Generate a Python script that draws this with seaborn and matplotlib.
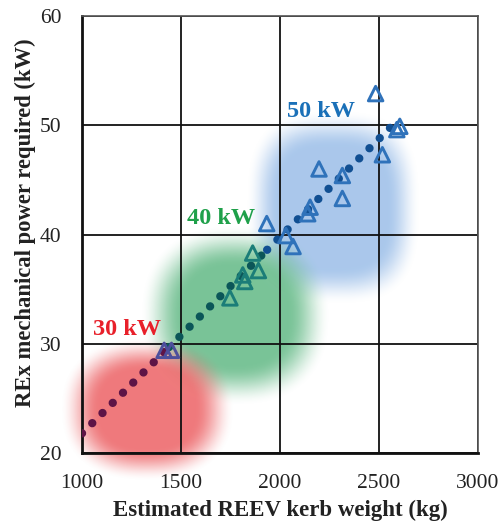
import numpy as np
import pandas as pd
import matplotlib
matplotlib.use("Agg")
import matplotlib.pyplot as plt
import seaborn as sns

# ---------------- data ----------------
weight_kg = [1415, 1452, 1747, 1812, 1822, 1862, 1891, 1933, 2030, 2066,
             2140, 2152, 2197, 2315, 2315, 2483, 2517, 2590, 2605]
power_kw = [29.4, 29.4, 34.2, 36.3, 35.7, 38.3, 36.7, 41.0, 39.9, 38.9,
            41.9, 42.5, 46.0, 45.4, 43.3, 52.9, 47.3, 49.6, 49.9]
power_class = ["30 kW", "30 kW", "40 kW", "40 kW", "40 kW", "40 kW", "40 kW",
               "50 kW", "50 kW", "50 kW", "50 kW", "50 kW", "50 kW", "50 kW",
               "50 kW", "50 kW", "50 kW", "50 kW", "50 kW"]

# trend line (at the colour changes)
trend_x = [1000, 1440, 1935, 2580]
trend_y = [21.8, 29.7, 38.6, 50.2]

x_ticks = [1000, 1500, 2000, 2500, 3000]
y_ticks = [20, 30, 40, 50, 60]

class_labels = ["30 kW", "40 kW", "50 kW"]
label_x = [1227, 1702, 2207]
label_y = [31.3, 41.5, 51.3]

# ---------------- style ----------------
sns.set_style("white")
plt.rcParams["font.family"] = ["Liberation Serif", "DejaVu Serif"]

W, H = 503, 525
fig = plt.figure(figsize=(W / 100, H / 100), dpi=100)
ax = fig.add_axes([82 / W, 1 - 453 / H, (478 - 82) / W, (453 - 16) / H])

# soft coloured blobs (decoration)
blobs = [  # cx, cy, rx, ry, power, fade, appearance colour
    (2270, 42.5, 440, 8.9, 3.0, 0.38, (170, 200, 236)),
    (1775, 32.6, 480, 8.3, 2.4, 0.45, (122, 196, 152)),
    (1330, 24.0, 440, 6.6, 2.4, 0.45, (240, 122, 124)),
]
ext = [860, 3000, 17.0, 60.0]
nx, ny = 500, 400
gx = np.linspace(ext[0], ext[1], nx)
gy = np.linspace(ext[3], ext[2], ny)
GX, GY = np.meshgrid(gx, gy)
C = np.zeros((ny, nx, 3))
A = np.zeros((ny, nx))
amax = 0.88
for cx, cy, rx, ry, p, fade, app in blobs:
    d = (np.abs((GX - cx) / rx) ** p + np.abs((GY - cy) / ry) ** p) ** (1 / p)
    t = np.clip((1 - d) / fade, 0, 1)
    a = amax * t * t * (3 - 2 * t)
    col = (np.array(app) / 255 - (1 - amax)) / amax
    col = np.clip(col, 0, 1)
    Anew = a + A * (1 - a)
    with np.errstate(invalid="ignore", divide="ignore"):
        C = np.where(Anew[..., None] > 0,
                     (col * a[..., None] + C * (A * (1 - a))[..., None]) / Anew[..., None],
                     0)
    A = Anew
img = np.dstack([C, A])
im = ax.imshow(img, extent=ext, aspect="auto", interpolation="bilinear", zorder=1)
im.set_clip_on(False)

# trend line (dotted, colour changing by region)
seg_rows = []
for i in range(len(trend_x) - 1):
    seg_rows.append({"x": trend_x[i], "y": trend_y[i], "seg": i})
    seg_rows.append({"x": trend_x[i + 1], "y": trend_y[i + 1], "seg": i})
trend_df = pd.DataFrame(seg_rows)
seg_colors = ["#5e1446", "#0b5658", "#114f92"]
sns.lineplot(data=trend_df, x="x", y="y", hue="seg", palette=seg_colors,
             legend=False, ax=ax, linewidth=6.0, ls=(0, (0.01, 1.72)),
             dash_capstyle="round", zorder=3, sort=False, estimator=None)

# triangles
df = pd.DataFrame({"weight": weight_kg, "power": power_kw, "cls": power_class})
tri_pal = {"30 kW": "#4d4f9c", "40 kW": "#1b7d78", "50 kW": "#2f72ba"}
sns.scatterplot(data=df, x="weight", y="power", hue="cls", palette=tri_pal,
                marker="^", s=110, linewidth=2.1, legend=False, ax=ax, zorder=4)
coll = ax.collections[-1]
fc = coll.get_facecolors()
coll.set_edgecolors(fc)
coll.set_facecolors("none")

# region labels
lab_cols = ["#e8202a", "#1fa04a", "#1a70b8"]
for t, x, y, c in zip(class_labels, label_x, label_y, lab_cols):
    ax.text(x, y, t, color=c, fontsize=17.5, fontweight="bold",
            ha="center", va="center", zorder=5)

# axes
ax.set_xlim(1000, 3000)
ax.set_ylim(20, 60)
ax.set_xticks(x_ticks)
ax.set_yticks(y_ticks)
ax.set_axisbelow("line")
ax.grid(True, color="#111111", lw=1.3)
ax.set_xlabel("Estimated REEV kerb weight (kg)", fontsize=16.5,
              fontweight="bold", color="#222222", labelpad=5)
ax.set_ylabel("REx mechanical power required (kW)", fontsize=16.3,
              fontweight="bold", color="#222222")
ax.yaxis.set_label_coords(-0.115, 0.526)
ax.tick_params(axis="both", labelsize=15.5, colors="#222222")
ax.tick_params(axis="x", direction="inout", length=8, width=1.8, pad=11)
ax.tick_params(axis="y", direction="out", length=6, width=1.2, pad=9)
for s in ["left", "bottom"]:
    ax.spines[s].set_color("#111111")
    ax.spines[s].set_linewidth(2.0)
for s in ["top", "right"]:
    ax.spines[s].set_color("#555555")
    ax.spines[s].set_linewidth(1.2)

fig.savefig("out.png", dpi=100)
